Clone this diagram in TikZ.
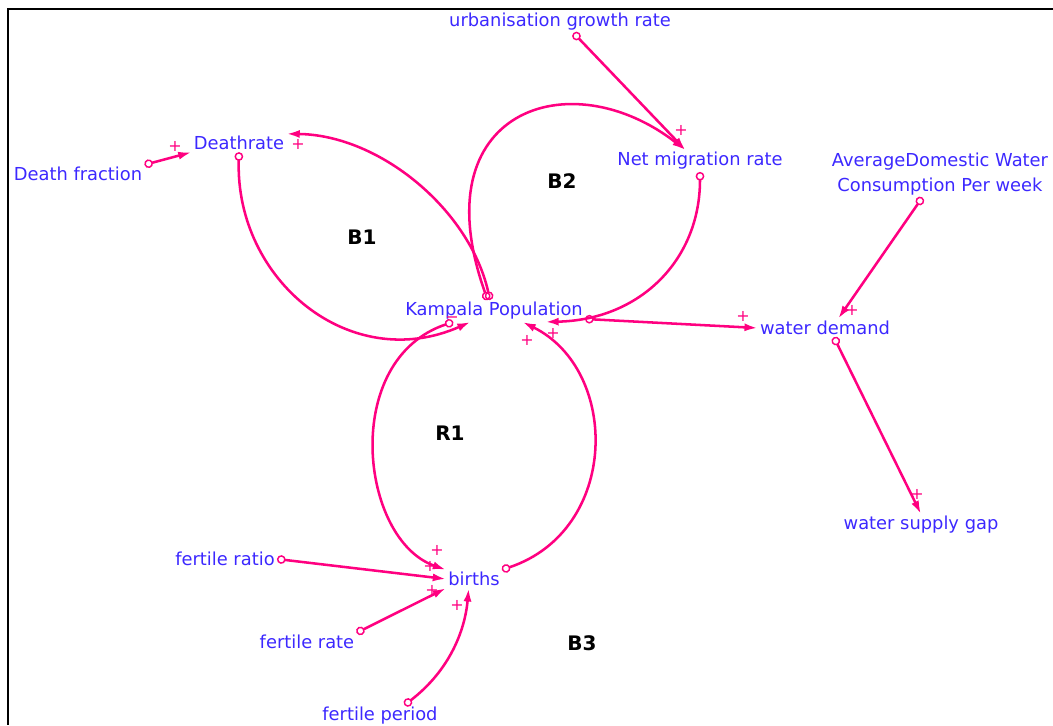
\documentclass[tikz,border=0pt]{standalone}
\usepackage{fontspec}
\setmainfont{DejaVu Sans}
\usetikzlibrary{arrows.meta}

\definecolor{varblue}{RGB}{60,40,255}
\definecolor{linkpink}{RGB}{255,0,128}

\begin{document}
\begin{tikzpicture}[x=0.75pt, y=-0.75pt,
        var/.style={text=varblue, inner sep=1.5pt, font=\fontsize{13.4}{18.75}\selectfont},
        link/.style={draw=linkpink, line width=1.9pt,
            {Circle[open, length=6.5pt, width=6.5pt, line width=1.1pt]}-{Latex[length=10pt, width=6pt]}},
        sign/.style={text=linkpink, inner sep=0pt, font=\fontsize{12}{12}\selectfont},
        loopname/.style={font=\fontsize{15}{15}\selectfont\bfseries}]
        \useasboundingbox (0,0) rectangle (1053,725);
        \draw[line width=1.5pt] (1053,9) -- (8,9) -- (8,725);

        \node[var] (urbrate) at (560,22) {urbanisation growth rate};
        \node[var] (deathrate) at (239,143) {Deathrate};
        \node[var] (deathfrac) at (78,174) {Death fraction};
        \node[var] (netmig) at (700,161) {Net migration rate};
        \node[var, align=center] (avgwater) at (940,174) {AverageDomestic Water\\Consumption Per week};
        \node[var] (pop) at (494,311) {Kampala Population};
        \node[var] (demand) at (825,328) {water demand};
        \node[var] (gap) at (921,525) {water supply gap};
        \node[var] (births) at (474,579) {births};
        \node[var] (fratio) at (225,559) {fertile ratio};
        \node[var] (frate) at (307,642) {fertile rate};
        \node[var] (fperiod) at (380,716) {fertile period};

        \node[loopname] (b1) at (362,237) {B1};
        \node[loopname] (b2) at (562,181) {B2};
        \node[loopname] (r1) at (450,433) {R1};
        \node[loopname] (b3) at (582,643) {B3};

        \draw[link] (deathfrac.north east) -- (deathrate.south west);
        \draw[link] (deathrate.south) .. controls (235,280) and (350,375) .. (pop.205);
        \draw[link] (pop.110) .. controls (470,210) and (380,135) .. (deathrate.north east);
        \draw[link] (pop.120) .. controls (420,110) and (570,60) .. (netmig.143);
        \draw[link] (urbrate.-39) -- (netmig.143);
        \draw[link] (netmig.south) .. controls (700,260) and (640,320) .. (pop.-12);
        \draw[link] (pop.-5) -- (demand.west);
        \draw[link] (pop.195) .. controls (340,360) and (360,540) .. (births.north west);
        \draw[link] (births.north east) .. controls (620,530) and (620,370) .. (pop.-21);
        \draw[link] (fratio.east) -- (births.west);
        \draw[link] (frate.north east) -- (births.south west);
        \draw[link] (fperiod.24) .. controls (450,670) and (465,630) .. (births.240);
        \draw[link] (avgwater.233) -- (demand.35);
        \draw[link] (demand.-46) -- (gap.north);

        % polarities
        \node[sign] (s1) at (175,146) {+};
        \node[sign] (s2) at (298,144) {+};
        \node[sign] (s3) at (452,320) {−};
        \node[sign] (s4) at (681,130) {+};
        \node[sign] (s5) at (553,333) {+};
        \node[sign] (s6) at (527,340) {+};
        \node[sign] (s7) at (743,316) {+};
        \node[sign] (s8) at (852,310) {+};
        \node[sign] (s9) at (917,494) {+};
        \node[sign] (s10) at (437,550) {+};
        \node[sign] (s11) at (430,566) {+};
        \node[sign] (s12) at (432,590) {+};
        \node[sign] (s13) at (457,605) {+};
\end{tikzpicture}
\end{document}
